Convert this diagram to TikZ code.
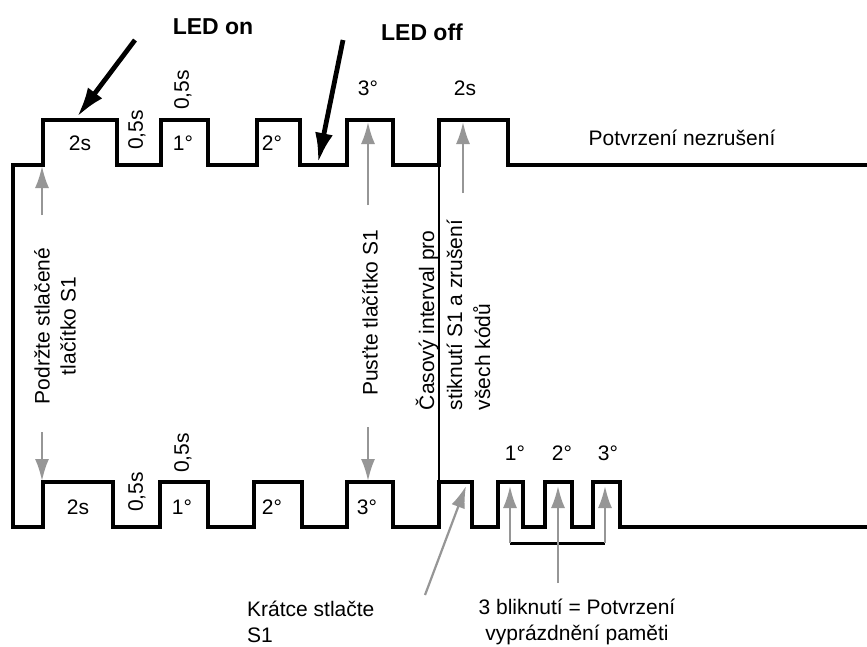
\documentclass[tikz,border=0pt]{standalone}
\usepackage{fontspec}
\setmainfont{Liberation Sans}
\usetikzlibrary{arrows.meta}
\definecolor{arrgray}{RGB}{150,150,150}
\tikzset{
  wave/.style={line width=3.6pt, line join=miter, line cap=rect},
  divider/.style={line width=2.8pt},
  lbl/.style={font=\fontsize{21}{26}\selectfont, inner sep=0pt},
  rlbl/.style={lbl, rotate=90},
  bold/.style={font=\fontsize{23}{28}\selectfont\bfseries, inner sep=0pt},
  garrow/.style={draw=arrgray, line width=2.2pt, -{Latex[length=22pt,width=14pt]}},
  barrow/.style={draw=black, line width=4.8pt, -{Latex[length=30pt,width=18pt]}},
  bracket/.style={line width=3pt}
}
\begin{document}
\begin{tikzpicture}[x=1pt,y=-1pt]
\useasboundingbox (0,0) rectangle (867,646);
\fill[white] (0,0) rectangle (867,646);

% top waveform
\draw[wave] (13,527) -- (13,165) -- (43,165) -- (43,120) -- (117,120) -- (117,165)
  -- (161,165) -- (161,120) -- (208,120) -- (208,165) -- (257,165) -- (257,120)
  -- (300,120) -- (300,165) -- (347,165) -- (347,120) -- (393,120) -- (393,165)
  -- (439,165) -- (439,120) -- (508,120) -- (508,165) -- (870,165);
% bottom waveform
\draw[wave] (13,527) -- (43,527) -- (43,482) -- (113,482) -- (113,527)
  -- (160,527) -- (160,482) -- (208,482) -- (208,527) -- (254,527) -- (254,482)
  -- (302,482) -- (302,527) -- (347,527) -- (347,482) -- (393,482) -- (393,527)
  -- (439,527) -- (439,482) -- (472,482) -- (472,527) -- (498,527) -- (498,482)
  -- (523,482) -- (523,527) -- (545,527) -- (545,482) -- (572,482) -- (572,527)
  -- (593,527) -- (593,482) -- (620,482) -- (620,527) -- (870,527);
% divider
\draw[divider] (439,165) -- (439,482);

% top labels
\node[lbl] (t2s) at (80,143) {2s};
\node[rlbl] (t05a) at (137,130) {0,5s};
\node[rlbl] (t05b) at (183,90) {0,5s};
\node[lbl] (t1) at (183,143) {1°};
\node[lbl] (t2) at (272,143) {2°};
\node[lbl] (t3) at (368,88) {3°};
\node[lbl] (t2s2) at (465,88) {2s};
\node[bold] (ledon) at (213,27) {LED on};
\node[bold] (ledoff) at (422,32) {LED off};
\node[lbl] (potv) at (682,138) {Potvrzení nezrušení};

% bottom labels
\node[lbl] (b2s) at (78,507) {2s};
\node[rlbl] (b05a) at (137,492) {0,5s};
\node[rlbl] (b05b) at (183,453) {0,5s};
\node[lbl] (b1) at (182,507) {1°};
\node[lbl] (b2) at (272,507) {2°};
\node[lbl] (b3) at (367,507) {3°};
\node[lbl] (c1) at (515,453) {1°};
\node[lbl] (c2) at (562,453) {2°};
\node[lbl] (c3) at (608,453) {3°};
\node[lbl, anchor=west, align=left] (kratce) at (247,622) {Krátce stlačte\\S1};
\node[lbl, align=center] (blik) at (577,622) {3 bliknutí = Potvrzení\\vyprázdnění paměti};

% rotated labels
\node[rlbl, align=center] (podrz) at (55,326) {Podržte stlačené\\tlačítko S1};
\node[rlbl] (pust) at (370,313) {Pusťte tlačítko S1};
\node[rlbl, align=left, font=\fontsize{21}{28}\selectfont] (cas) at (453,315)
  {Časový interval pro\\stiknutí S1 a zrušení\\všech kódů};

% black arrows
\coordinate (onA) at (135,40);
\coordinate (onB) at (77,117);
\coordinate (offA) at (343,40);
\coordinate (offB) at (318,163);
\draw[barrow] (onA) -- (onB);
\draw[barrow] (offA) -- (offB);

% gray arrows
\coordinate (g1a) at (42,215); \coordinate (g1b) at (42,166);
\coordinate (g2a) at (368,205); \coordinate (g2b) at (368,122);
\coordinate (g3a) at (463,193); \coordinate (g3b) at (463,122);
\coordinate (g4a) at (42,432); \coordinate (g4b) at (42,481);
\coordinate (g5a) at (368,427); \coordinate (g5b) at (368,481);
\coordinate (g6a) at (425,595); \coordinate (g6b) at (466,486);
\draw[garrow] (g1a) -- (g1b);
\draw[garrow] (g2a) -- (g2b);
\draw[garrow] (g3a) -- (g3b);
\draw[garrow] (g4a) -- (g4b);
\draw[garrow] (g5a) -- (g5b);
\draw[garrow] (g6a) -- (g6b);

% bracket
\coordinate (brL) at (510,543);
\coordinate (brR) at (605,543);
\coordinate (brM) at (558,583);
\draw[bracket] (brL) -- (brR);
\draw[garrow] (brL) -- (510,486);
\draw[garrow] (brR) -- (605,486);
\draw[garrow] (brM) -- (558,486);
\end{tikzpicture}
\end{document}
